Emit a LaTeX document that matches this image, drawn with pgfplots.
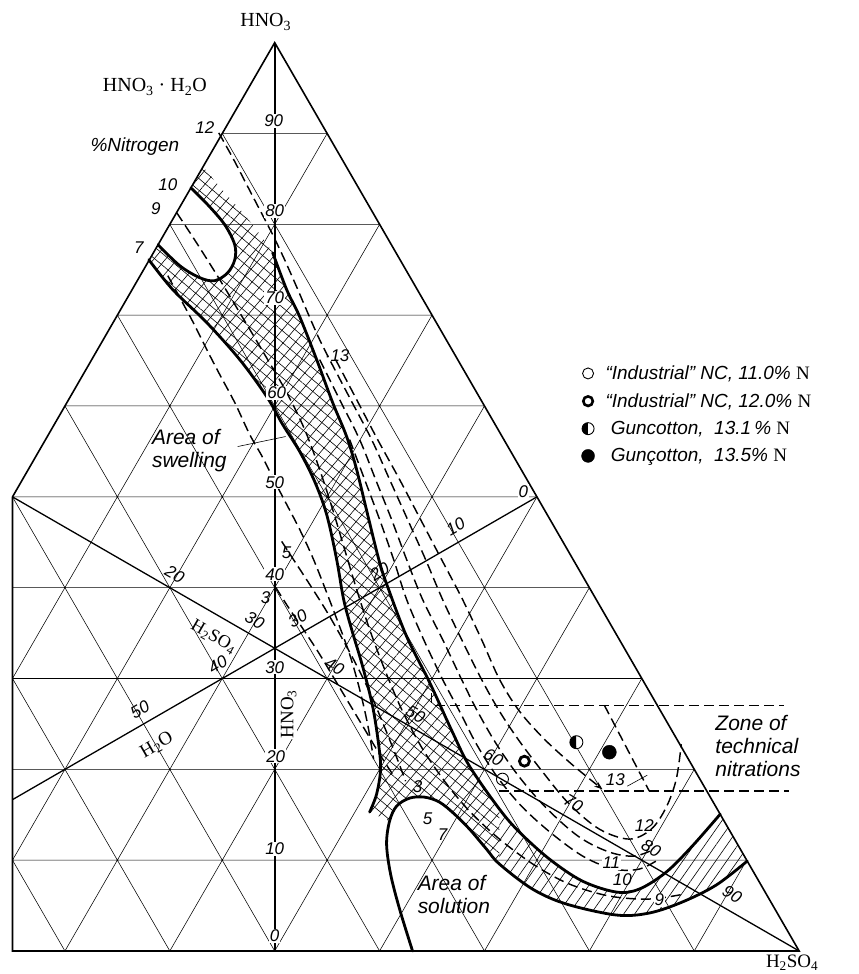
\documentclass[border=0pt]{standalone}
\usepackage{fontspec}
\setmainfont{Liberation Serif}
\newfontfamily\tech{Liberation Sans}
\newfontfamily\serif{Liberation Serif}
\usepackage{pgfplots}
\usepackage{pgfplotstable}
\pgfplotsset{compat=1.18}
\usetikzlibrary{patterns.meta,arrows.meta}

% all coordinates: positions (x to the right, y downward)
\pgfplotstableread{
x y
149 260
173 290
207 323
240 360
267 397
283 425
300 452
315 482
327 515
337 560
344 600
352 630
363 667
373 707
379 745
381 770
377 795
370 813
}\curveA
\pgfplotstableread{
x y
273 253
287 290
300 317
317 360
333 403
347 437
357 470
368 515
380 563
389 590
407 637
430 683
453 733
470 767
500 810
520 833
550 860
583 882
617 893
640 890
667 873
693 847
721 815
}\curveB
\pgfplotstableread{
x y
413 952
400 910
391 875
387 845
390 822
397 807
410 799
425 798
440 803
455 815
470 830
487 850
500 865
533 890
567 905
617 916
650 914
683 903
717 886
748 862
}\curveC
\pgfplotstableread{
x y
158.2 245
180 266
200 278
215 281
228 273
235 260
235 245
225 225
208 205
191 188
}\curveL
\pgfplotstableread{
x y
149.6 260
203.2 167
225 193
245 215
262 237
273 253
287 290
300 317
317 360
333 403
347 437
357 470
368 515
380 563
389 590
407 637
430 683
453 733
470 767
500 810
500 865
487 850
470 830
455 815
440 803
425 798
410 799
397 807
390 822
370 813
377 795
381 770
379 745
373 707
363 667
352 630
344 600
337 560
327 515
315 482
300 452
283 425
267 397
240 360
207 323
173 290
149.6 260
}\polyA
\pgfplotstableread{
x y
500 810
520 833
550 860
583 882
617 893
640 890
667 873
693 847
721 815
748 862
717 886
683 903
650 914
617 916
567 905
533 890
500 865
}\polyB
\pgfplotstableread{
x y
219 133
233 158
246 183
259 208
272 233
284 258
296 285
308 313
319 338
330 360
351 400
372 440
390 480
408 520
426 560
443 600
462 640
482 680
500 712
520 742
545 775
570 805
600 830
630 840
652 830
667 808
677 780
682 745
}\dA
\pgfplotstableread{
x y
336 360
357 400
378 440
400 480
421 520
442 560
463 600
482 640
500 680
520 712
545 740
570 763
588 778
603 790
}\dB
\pgfplotstableread{
x y
320 360
340 400
360 440
376 480
392 520
407 560
423 600
443 640
462 680
478 712
497 745
520 778
548 810
580 838
610 853
635 857
655 850
}\dC
\pgfplotstableread{
x y
350 440
365 480
380 520
394 560
407 600
424 640
443 680
460 712
477 745
498 778
523 808
553 835
585 858
615 870
640 870
660 860
}\dD
\pgfplotstableread{
x y
177 213
198 245
220 280
243 318
265 355
287 393
305 430
320 470
333 510
345 550
357 590
370 630
385 670
402 710
422 748
445 782
470 812
500 840
535 866
570 885
610 897
650 900
685 895
}\dE
\pgfplotstableread{
x y
168 276
180 298
193 322
207 350
220 375
235 403
250 435
263 458
275 482
287 505
300 530
313 558
325 588
338 622
350 655
360 690
368 725
374 760
}\dF
\pgfplotstableread{
x y
282 542
295 562
310 585
327 612
343 640
358 668
372 697
385 728
397 758
406 782
}\dG
\pgfplotstableread{
x y
276 588
290 610
305 632
320 655
335 680
350 705
365 730
380 755
395 778
}\dH
\pgfplotstableread{
x y
12.5 861.1
747.5 861.1
nan nan
12.5 770.1
695 770.1
nan nan
12.5 679.2
642.5 679.2
nan nan
12.5 588.3
590 588.3
nan nan
12.5 497.4
537.5 497.4
nan nan
65 406.4
485 406.4
nan nan
117.5 315.5
432.5 315.5
nan nan
170 224.6
380 224.6
nan nan
222.5 133.6
327.5 133.6
nan nan
12.5 679.2
327.5 133.6
nan nan
12.5 861.1
380 224.6
nan nan
65 952
432.5 315.5
nan nan
170 952
485 406.4
nan nan
275 952
537.5 497.4
nan nan
380 952
590 588.3
nan nan
485 952
642.5 679.2
nan nan
590 952
695 770.1
nan nan
695 952
747.5 861.1
nan nan
695 952
222.5 133.6
nan nan
590 952
170 224.6
nan nan
485 952
117.5 315.5
nan nan
380 952
65 406.4
nan nan
275 952
12.5 497.4
nan nan
170 952
12.5 679.2
nan nan
65 952
12.5 861.1
}\gridlines

\tikzset{
  lab/.style={font=\tech\itshape\fontsize{17}{20}\selectfont, inner sep=1pt},
  labw/.style={lab, fill=white},
  big/.style={font=\tech\itshape\fontsize{21}{23}\selectfont, align=left, inner sep=0pt},
}
\pgfplotsset{
  gl/.style={forget plot, line width=0.55pt, black, unbounded coords=jump},
  ml/.style={forget plot, line width=1.6pt, black},
  tc/.style={forget plot, line width=2.8pt, black, smooth, tension=0.55, line cap=round},
  dl/.style={forget plot, line width=1.45pt, black, smooth, tension=0.55, dash pattern=on 10pt off 5pt},
}

\begin{document}
\begin{tikzpicture}
\begin{axis}[
  x=1pt, y=1pt, y dir=reverse,
  xmin=0, xmax=859, ymin=0, ymax=974,
  hide axis, clip=false, scale only axis,
  legend style={at={(axis cs:579,362)}, anchor=north west, draw=none, fill=none,
    font=\tech\itshape\fontsize{19}{23}\selectfont, row sep=8.5pt},
  legend cell align=left,
]
\addplot[draw=none, forget plot] coordinates {(0,0) (859,974)};
% hatching
\addplot[draw=none, forget plot, pattern={Lines[angle=50,distance=9pt,line width=0.6pt]}] table {\polyA} -- cycle;
\addplot[draw=none, forget plot, pattern={Lines[angle=-40,distance=9pt,line width=0.6pt]}] table {\polyA} -- cycle;
\addplot[draw=none, forget plot, pattern={Lines[angle=55,distance=9pt,line width=0.6pt]}] table {\polyB} -- cycle;
\addplot[draw=none, fill=white, forget plot] table {\curveL} -- cycle;
% grid
\addplot[gl] table {\gridlines};
% sides, frame, medians
\addplot[ml] coordinates {(12.5,497.4) (275,42.7) (800,952) (12.5,952) (12.5,497.4)};
\addplot[ml] coordinates {(275,42.7) (275,952)};
\addplot[ml, line width=1.3pt] coordinates {(800,952) (12.5,497.4)};
\addplot[ml, line width=1.3pt] coordinates {(537.5,497.4) (12.5,800.5)};
% iso-nitrogen lines
\addplot[dl] table {\dA};
\addplot[dl, -{Stealth[length=8pt,width=6pt]}] table {\dB};
\addplot[dl] table {\dC};
\addplot[dl] table {\dD};
\addplot[dl] table {\dE};
\addplot[dl] table {\dF};
\addplot[dl] table {\dG};
\addplot[dl] table {\dH};
% zone of technical nitrations
\addplot[forget plot, line width=1.45pt, dash pattern=on 10pt off 5pt] coordinates {(432,694) (432,706) (785,706)};
\addplot[forget plot, line width=1.45pt, dash pattern=on 10pt off 5pt] coordinates {(605,706) (650,792)};
\addplot[forget plot, line width=1.45pt, dash pattern=on 10pt off 5pt] coordinates {(500,792) (790,792)};
% boundaries
\addplot[tc] table {\curveA};
\addplot[tc] table {\curveB};
\addplot[tc] table {\curveC};
\addplot[tc] table {\curveL};
% leaders
\addplot[forget plot, line width=0.6pt] coordinates {(238,447) (286,437)};
\addplot[forget plot, line width=0.6pt] coordinates {(628,787) (648,776)};
% nitrocellulose samples
\addplot[forget plot, only marks, mark=o, mark size=6pt, line width=0.9pt, mark options={fill=white}] coordinates {(503,780)};
\addplot[forget plot, only marks, mark=o, mark size=5pt, line width=2.8pt, mark options={fill=white}] coordinates {(525,762)};
\addplot[forget plot, only marks, mark=halfcircle*, mark size=6.5pt, line width=0.9pt, mark options={rotate=90, fill=black}] coordinates {(577,743)};
\addplot[forget plot, only marks, mark=*, mark size=7pt, black] coordinates {(610,753)};

\addlegendimage{only marks, mark=o, mark size=5.5pt, line width=0.9pt}
\addlegendentry{\hspace{9pt}“Industrial” NC, 11.0\% {\serif\upshape N}}
\addlegendimage{only marks, mark=o, mark size=4.8pt, line width=2.6pt}
\addlegendentry{\hspace{9pt}“Industrial” NC, 12.0\% {\serif\upshape N}}
\addlegendimage{only marks, mark=halfcircle*, mark size=6pt, line width=0.9pt, mark options={rotate=90, fill=black}}
\addlegendentry{\hspace{9pt}\ Guncotton, \ 13.1\,\% {\serif\upshape N}}
\addlegendimage{only marks, mark=*, mark size=6.5pt, black}
\addlegendentry{\hspace{9pt}\ Gunçotton, \ 13.5\% {\serif\upshape N}}

% HNO3 axis labels
\node[labw] at (axis cs:274,121) {90};
\node[labw] at (axis cs:275,211) {80};
\node[labw] at (axis cs:275,298) {70};
\node[labw] at (axis cs:277,393) {60};
\node[labw] at (axis cs:275,483) {50};
\node[labw] at (axis cs:275,575) {40};
\node[labw] at (axis cs:275,668) {30};
\node[labw] at (axis cs:276,757) {20};
\node[labw] at (axis cs:275,850) {10};
\node[labw] at (axis cs:275,937) {0};
\node[fill=white, inner sep=1pt, rotate=90, font=\serif\fontsize{19}{22}\selectfont] at (axis cs:289,715) {HNO\textsubscript{3}};
% H2SO4 axis labels
\node[lab, rotate=-30] at (axis cs:175,575) {20};
\node[lab, rotate=-30] at (axis cs:255,621) {30};
\node[lab, rotate=-30] at (axis cs:335,667) {40};
\node[lab, rotate=-30] at (axis cs:416,715) {50};
\node[lab, rotate=-30] at (axis cs:494,758) {60};
\node[lab, rotate=-30] at (axis cs:574,804) {70};
\node[lab, rotate=-30] at (axis cs:652,849) {80};
\node[lab, rotate=-30] at (axis cs:733,895) {90};
\node[rotate=-30, inner sep=1pt, font=\serif\fontsize{18}{21}\selectfont] at (axis cs:214,638) {H\textsubscript{2}SO\textsubscript{4}};
% H2O axis labels
\node[labw] at (axis cs:524,492) {0};
\node[lab, rotate=30] at (axis cs:456,527) {10};
\node[lab, rotate=30] at (axis cs:380,572) {20};
\node[lab, rotate=30] at (axis cs:298,619) {30};
\node[lab, rotate=30] at (axis cs:218,665) {40};
\node[lab, rotate=30] at (axis cs:140,710) {50};
\node[rotate=30, inner sep=1pt, font=\serif\fontsize{19}{22}\selectfont] at (axis cs:157,746) {H\textsubscript{2}O};
% nitrogen labels
\node[lab] at (axis cs:205,128) {12};
\node[lab] at (axis cs:168,185) {10};
\node[lab] at (axis cs:156,209) {9};
\node[lab] at (axis cs:139,248) {7};
\node[lab, anchor=west] at (axis cs:324,356) {·13};
\node[lab] at (axis cs:287,553) {5};
\node[lab] at (axis cs:266,598) {3};
\node[lab] at (axis cs:418,787) {3};
\node[lab] at (axis cs:428,820) {5};
\node[lab] at (axis cs:443,836) {7};
\node[labw] at (axis cs:616,780) {13};
\node[lab] at (axis cs:645,826) {12};
\node[labw] at (axis cs:612,864) {11};
\node[lab] at (axis cs:623,881) {10};
\node[labw] at (axis cs:660,901) {9};
% titles
\node[font=\serif\fontsize{20}{24}\selectfont] at (axis cs:266,22) {HNO\textsubscript{3}};
\node[font=\serif\fontsize{20}{24}\selectfont] at (axis cs:155,87) {HNO\textsubscript{3} · H\textsubscript{2}O};
\node[font=\tech\itshape\fontsize{19}{22}\selectfont] at (axis cs:135,147) {\%Nitrogen};
\node[font=\serif\fontsize{19}{22}\selectfont] at (axis cs:793,964) {H\textsubscript{2}SO\textsubscript{4}};
\node[big, anchor=north west] at (axis cs:152,430) {Area of\\swelling};
\node[big, anchor=north west] at (axis cs:418,876) {Area of\\solution};
\node[big, anchor=north west] at (axis cs:716,716) {Zone of\\technical\\nitrations};
\end{axis}
\end{tikzpicture}
\end{document}
